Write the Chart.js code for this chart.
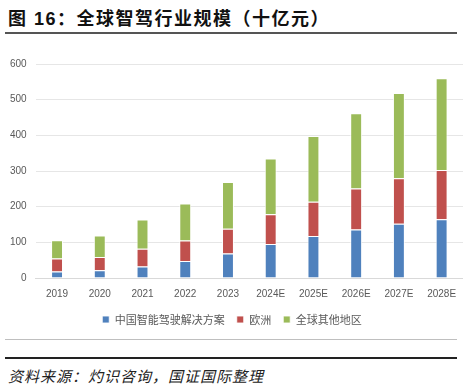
<!DOCTYPE html>
<html>
<head>
<meta charset="utf-8">
<script src="https://cdn.jsdelivr.net/npm/chart.js@4/dist/chart.umd.min.js"></script>
<style>
  body { margin: 0; width: 463px; height: 390px; background: #fff; position: relative; overflow: hidden;
         font-family: "Liberation Sans", "Noto Sans CJK SC", sans-serif; }
  #title { position: absolute; left: 8px; top: 4px; font-size: 18px; font-weight: bold; color: #111;
           font-family: "Liberation Sans", "Noto Sans CJK SC", sans-serif; letter-spacing: 1.5px; }
  #rule1 { position: absolute; left: 5px; right: 6px; top: 32px; height: 2px; background: #555; }
  #rule2 { position: absolute; left: 5px; right: 6px; top: 339px; height: 1px; background: #bfbfbf; }
  #rule3 { position: absolute; left: 5px; right: 6px; top: 357px; height: 2px; background: #222; }
  #source { position: absolute; left: 8px; top: 365px; font-size: 15px; font-style: italic; color: #222;
            font-family: "Noto Sans CJK SC", sans-serif; letter-spacing: 1px; }
  #wrap { position: absolute; left: 0; top: 48px; width: 463px; height: 287px; }
</style>
</head>
<body>
<div id="title">图 16：全球智驾行业规模（十亿元）</div>
<div id="rule1"></div>
<div id="wrap"><canvas id="chart"></canvas></div>
<div id="rule2"></div>
<div id="rule3"></div>
<div id="source">资料来源：灼识咨询，国证国际整理</div>
<script>
const years = ["2019", "2020", "2021", "2022", "2023", "2024E", "2025E", "2026E", "2027E", "2028E"];
const china = [18, 22, 32, 48, 69, 95, 118, 136, 152, 165];
const europe = [37, 37, 50, 57, 69, 84, 96, 115, 128, 138];
const rest = [51, 60, 82, 104, 131, 156, 184, 211, 239, 257];

const seriesNames = ["中国智能驾驶解决方案", "欧洲", "全球其他地区"];
const colors = ["#4F81BD", "#C0504D", "#9BBB59"];

const datasets = [china, europe, rest].map((d, i) => ({
  label: seriesNames[i],
  data: d,
  backgroundColor: colors[i],
  borderColor: "rgba(255,255,255,0.85)",
  borderWidth: 1,
  categoryPercentage: 0.9,
  barPercentage: 0.31
}));

new Chart(document.getElementById("chart"), {
  type: "bar",
  data: { labels: years, datasets },
  options: {
    responsive: true,
    maintainAspectRatio: false,
    animation: false,
    layout: { padding: { top: 16, right: 0, left: 1, bottom: 0 } },
    plugins: {
      tooltip: { enabled: false },
      legend: {
        position: "bottom",
        labels: {
          boxWidth: 7, boxHeight: 7, padding: 12,
          color: "#595959",
          font: { size: 11, family: "'Noto Sans CJK SC', sans-serif" }
        }
      }
    },
    scales: {
      x: {
        stacked: true,
        grid: { display: false },
        border: { color: "#d9d9d9" },
        ticks: { color: "#595959", font: { size: 10, family: "'Liberation Sans', sans-serif" }, padding: 2 }
      },
      y: {
        stacked: true,
        min: 0, max: 600,
        grid: { color: "#e6e6e6", drawTicks: false },
        border: { display: false },
        ticks: { stepSize: 100, color: "#595959", font: { size: 10, family: "'Liberation Sans', sans-serif" }, padding: 9 }
      }
    }
  }
});
</script>
</body>
</html>
